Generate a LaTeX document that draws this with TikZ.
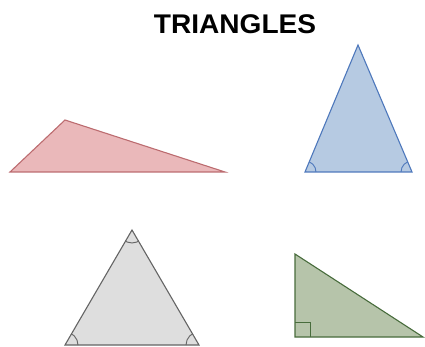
\documentclass[tikz,border=0pt]{standalone}
\usepackage{fontspec}
\setmainfont{Liberation Sans}
\usetikzlibrary{calc}
\definecolor{redfill}{RGB}{234,184,186}
\definecolor{redline}{RGB}{188,108,112}
\definecolor{bluefill}{RGB}{182,202,226}
\definecolor{blueline}{RGB}{78,120,188}
\definecolor{grayfill}{RGB}{222,222,222}
\definecolor{grayline}{RGB}{100,100,100}
\definecolor{greenfill}{RGB}{182,196,170}
\definecolor{greenline}{RGB}{72,108,60}
\begin{document}
\begin{tikzpicture}[x=1pt,y=-1pt,
  tri/.style={line width=1.1pt,line join=miter},
  anglemark/.style={line width=0.9pt}]
\useasboundingbox (0,0) rectangle (425,347);
% title
\node[font=\bfseries\fontsize{27}{30}\selectfont, inner sep=0pt, xscale=1.04] (title) at (235,24) {TRIANGLES};
% red obtuse
\coordinate (rA) at (10,172);
\coordinate (rB) at (65,120);
\coordinate (rC) at (225,172);
\draw[tri,draw=redline,fill=redfill] (rA) -- (rB) -- (rC) -- cycle;
% blue isosceles
\coordinate (bA) at (305,172);
\coordinate (bB) at (358,45);
\coordinate (bC) at (412,172);
\draw[tri,draw=blueline,fill=bluefill] (bA) -- (bB) -- (bC) -- cycle;
\begin{scope}
\clip (bA) -- (bB) -- (bC) -- cycle;
\draw[anglemark,blueline] (bA) circle[radius=11];
\draw[anglemark,blueline] (bC) circle[radius=11];
\end{scope}
% gray equilateral
\coordinate (gA) at (65,345);
\coordinate (gB) at (132,230);
\coordinate (gC) at (199,345);
\draw[tri,draw=grayline,fill=grayfill] (gA) -- (gB) -- (gC) -- cycle;
\begin{scope}
\clip (gA) -- (gB) -- (gC) -- cycle;
\draw[anglemark,grayline] (gA) circle[radius=13];
\draw[anglemark,grayline] (gB) circle[radius=13];
\draw[anglemark,grayline] (gC) circle[radius=13];
\end{scope}
% green right
\coordinate (nA) at (295,254);
\coordinate (nB) at (295,337);
\coordinate (nC) at (423,337);
\draw[tri,draw=greenline,fill=greenfill] (nA) -- (nB) -- (nC) -- cycle;
\draw[anglemark,greenline] ($(nB)+(0,-15)$) -- ++(15,0) -- ++(0,15);
\end{tikzpicture}
\end{document}
